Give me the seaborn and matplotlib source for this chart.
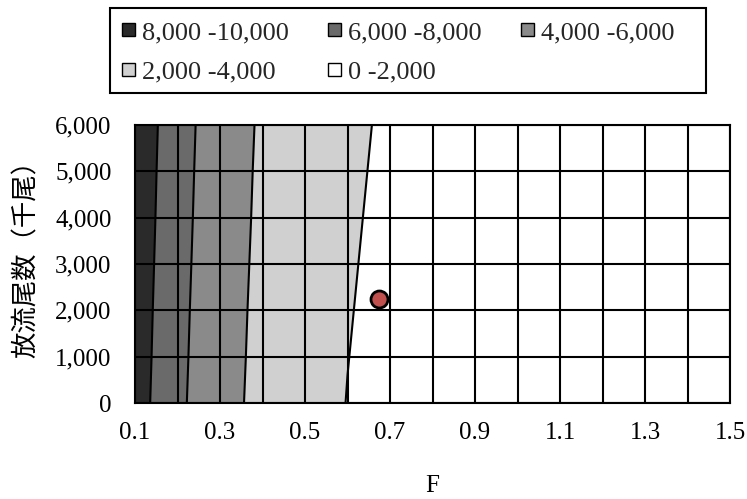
import numpy as np
import pandas as pd
import matplotlib
matplotlib.use("Agg")
import matplotlib.pyplot as plt
import seaborn as sns
from matplotlib.patches import Patch, Rectangle
from matplotlib.ticker import FuncFormatter, FixedLocator

# ==============================
# Data
# ==============================
f_values = [0.1, 0.2, 0.3, 0.4, 0.5, 0.6, 0.7, 0.8, 0.9, 1.0, 1.1, 1.2, 1.3, 1.4, 1.5]
release = [0, 1000, 2000, 3000, 4000, 5000, 6000]
x_tick_labels = ["0.1", "0.3", "0.5", "0.7", "0.9", "1.1", "1.3", "1.5"]

# one row per release level (F along the row)
z_0 = [8900, 6380, 4650, 3500, 2620, 1970, 1500, 1160, 910, 720, 575, 460, 370, 300, 245]
z_1000 = [8990, 6450, 4700, 3550, 2670, 2020, 1550, 1210, 950, 760, 610, 490, 400, 330, 270]
z_2000 = [9070, 6510, 4750, 3590, 2720, 2070, 1600, 1250, 1000, 800, 650, 530, 430, 350, 290]
z_3000 = [9160, 6580, 4800, 3640, 2770, 2120, 1650, 1300, 1040, 840, 690, 560, 460, 380, 320]
z_4000 = [9250, 6650, 4850, 3690, 2810, 2170, 1700, 1350, 1080, 880, 720, 590, 490, 410, 340]
z_5000 = [9330, 6710, 4900, 3730, 2860, 2220, 1750, 1390, 1130, 920, 760, 630, 520, 430, 360]
z_6000 = [9420, 6780, 4950, 3780, 2910, 2270, 1800, 1440, 1170, 960, 800, 660, 550, 460, 390]

levels = [0, 2000, 4000, 6000, 8000, 10000]
band_labels = ["0 -2,000", "2,000 -4,000", "4,000 -6,000", "6,000 -8,000", "8,000 -10,000"]
band_colors = ["#ffffff", "#d0d0d0", "#8a8a8a", "#6a6a6a", "#2a2a2a"]

current_f = [0.674]
current_release = [2240]

# ==============================
# Style
# ==============================
sns.set_theme(style="white")
plt.rcParams['font.family'] = ['Liberation Serif', 'Noto Sans CJK JP']

Z = np.array([z_0, z_1000, z_2000, z_3000, z_4000, z_5000, z_6000])
F, N = np.meshgrid(f_values, release)

fig = plt.figure(figsize=(7.47, 4.99), dpi=100)
ax = fig.add_axes([135/747, 1 - 403/499, 595/747, 278/499])

# filled bands + black boundary lines
ax.contourf(F, N, Z, levels=levels, colors=band_colors)
ax.contour(F, N, Z, levels=levels[1:-1], colors="black", linewidths=1.5)

pt = pd.DataFrame({"F": current_f, "N": current_release})
sns.scatterplot(data=pt, x="F", y="N", ax=ax, s=150, color="#C0504D",
                edgecolor="black", linewidth=2, zorder=5, legend=False)

ax.set_xlim(0.1, 1.5)
ax.set_ylim(0, 6000)
ax.xaxis.set_major_locator(FixedLocator(f_values[::2]))
ax.xaxis.set_minor_locator(FixedLocator(f_values))
ax.set_xticklabels(x_tick_labels)
ax.yaxis.set_major_locator(FixedLocator(release))
ax.yaxis.set_major_formatter(FuncFormatter(lambda v, p: f"{v:,.0f}"))

ax.set_axisbelow(False)
ax.grid(True, which="both", color="black", linewidth=1.5)
ax.tick_params(axis="both", which="both", length=0, labelsize=18, colors="black")
ax.tick_params(axis="x", pad=14)
ax.tick_params(axis="y", pad=17)
for s in ax.spines.values():
    s.set_color("black")
    s.set_linewidth(1.5)

ax.set_xlabel("F", fontsize=18, color="black")
ax.xaxis.set_label_coords(0.5, -0.26)
ax.set_ylabel("放流尾数（千尾）", fontsize=19, color="black",
              family=['Noto Sans CJK JP'])
ax.yaxis.set_label_coords(-0.16, 0.54)

# legend, row-major order like the original
order = [4, 1, 3, 0, 2]
handles = [Patch(facecolor=band_colors[i], edgecolor="black", linewidth=1) for i in order]
labels = [band_labels[i] for i in order]
fig.legend(handles, labels, ncol=3, loc="upper left",
           bbox_to_anchor=(122/747, 1 - 22/499), frameon=False,
           borderpad=0, borderaxespad=0, fontsize=19,
           handlelength=0.5, handleheight=0.4, handletextpad=0.25,
           columnspacing=1.5, labelspacing=0.68)
fig.add_artist(Rectangle((110/747, 1 - 93/499), 596/747, 85/499,
                         transform=fig.transFigure, fill=False,
                         edgecolor="black", linewidth=1.5))

fig.savefig("out.png", dpi=100)
